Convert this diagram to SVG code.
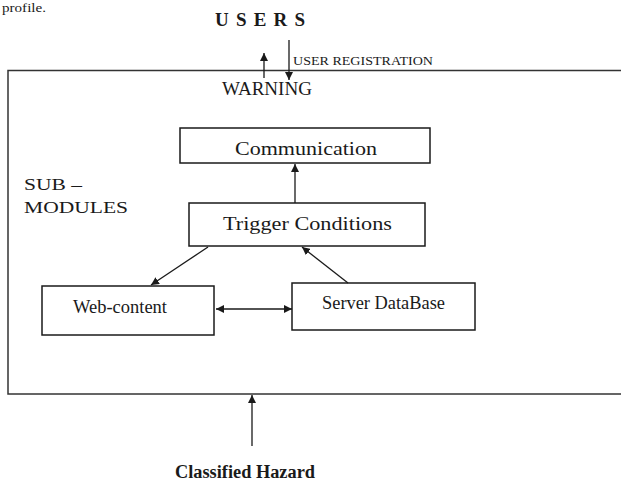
<svg xmlns="http://www.w3.org/2000/svg" width="621" height="482" viewBox="0 0 621 482">
<style>
text{font-family:"Liberation Serif","Times New Roman",serif;fill:#1a1a1a}
.box{fill:#fff;stroke:#1a1a1a;stroke-width:1.5}
.outer{fill:#fff;stroke:#333;stroke-width:1.5}
.lbl{font-size:19px}
.c{stroke:#1a1a1a;stroke-width:1.3;fill:none}
.b{font-weight:bold}
</style>
<defs>
<marker id="ah" viewBox="0 0 10 10" refX="10" refY="5" markerWidth="8" markerHeight="8" markerUnits="userSpaceOnUse" orient="auto-start-reverse">
<path d="M0,0 L10,5 L0,10 z" fill="#1a1a1a"/>
</marker>
</defs>
<rect width="621" height="482" fill="#fff"/>
<text x="2" y="12" font-size="13" textLength="44" lengthAdjust="spacingAndGlyphs">profile.</text>
<g id="outer-system">
<rect class="outer" x="8" y="70.5" width="630" height="323.5"/>
<text x="24" y="190" font-size="17" textLength="58" lengthAdjust="spacingAndGlyphs">SUB –</text>
<text x="24" y="213" font-size="17" textLength="104" lengthAdjust="spacingAndGlyphs">MODULES</text>
</g>
<g id="users">
<text class="b" x="215" y="26" font-size="19" textLength="90" lengthAdjust="spacing">USERS</text>
</g>
<g id="warning">
<text x="222" y="95" font-size="19" textLength="90" lengthAdjust="spacingAndGlyphs">WARNING</text>
</g>
<g id="communication">
<rect class="box" x="180" y="128" width="250" height="35"/>
<text class="lbl" x="235" y="155" textLength="142" lengthAdjust="spacingAndGlyphs">Communication</text>
</g>
<g id="trigger-conditions">
<rect class="box" x="189" y="203" width="236" height="43"/>
<text class="lbl" x="223" y="230" textLength="169" lengthAdjust="spacingAndGlyphs">Trigger Conditions</text>
</g>
<g id="web-content">
<rect class="box" x="42" y="286" width="172" height="49"/>
<text class="lbl" x="73" y="313" textLength="94" lengthAdjust="spacingAndGlyphs">Web-content</text>
</g>
<g id="server-database">
<rect class="box" x="292" y="283" width="183" height="47"/>
<text class="lbl" x="322" y="309" textLength="123" lengthAdjust="spacingAndGlyphs">Server DataBase</text>
</g>
<g id="classified-hazard">
<text class="b" x="175" y="478" font-size="18" textLength="140" lengthAdjust="spacingAndGlyphs">Classified Hazard</text>
</g>
<g id="connectors">
<line class="c" x1="264" y1="78" x2="264" y2="53" marker-end="url(#ah)"/>
<line class="c" x1="289" y1="40" x2="289" y2="80" marker-end="url(#ah)"/>
<text x="293" y="65" font-size="12" textLength="140" lengthAdjust="spacingAndGlyphs">USER REGISTRATION</text>
<line class="c" x1="295" y1="203" x2="295" y2="164" marker-end="url(#ah)"/>
<line class="c" x1="208" y1="247" x2="151" y2="285" marker-end="url(#ah)"/>
<line class="c" x1="348" y1="283" x2="302" y2="247" marker-end="url(#ah)"/>
<line class="c" x1="216" y1="309" x2="292" y2="309" marker-start="url(#ah)" marker-end="url(#ah)"/>
<line class="c" x1="252" y1="446" x2="252" y2="395" marker-end="url(#ah)"/>
</g>
</svg>
